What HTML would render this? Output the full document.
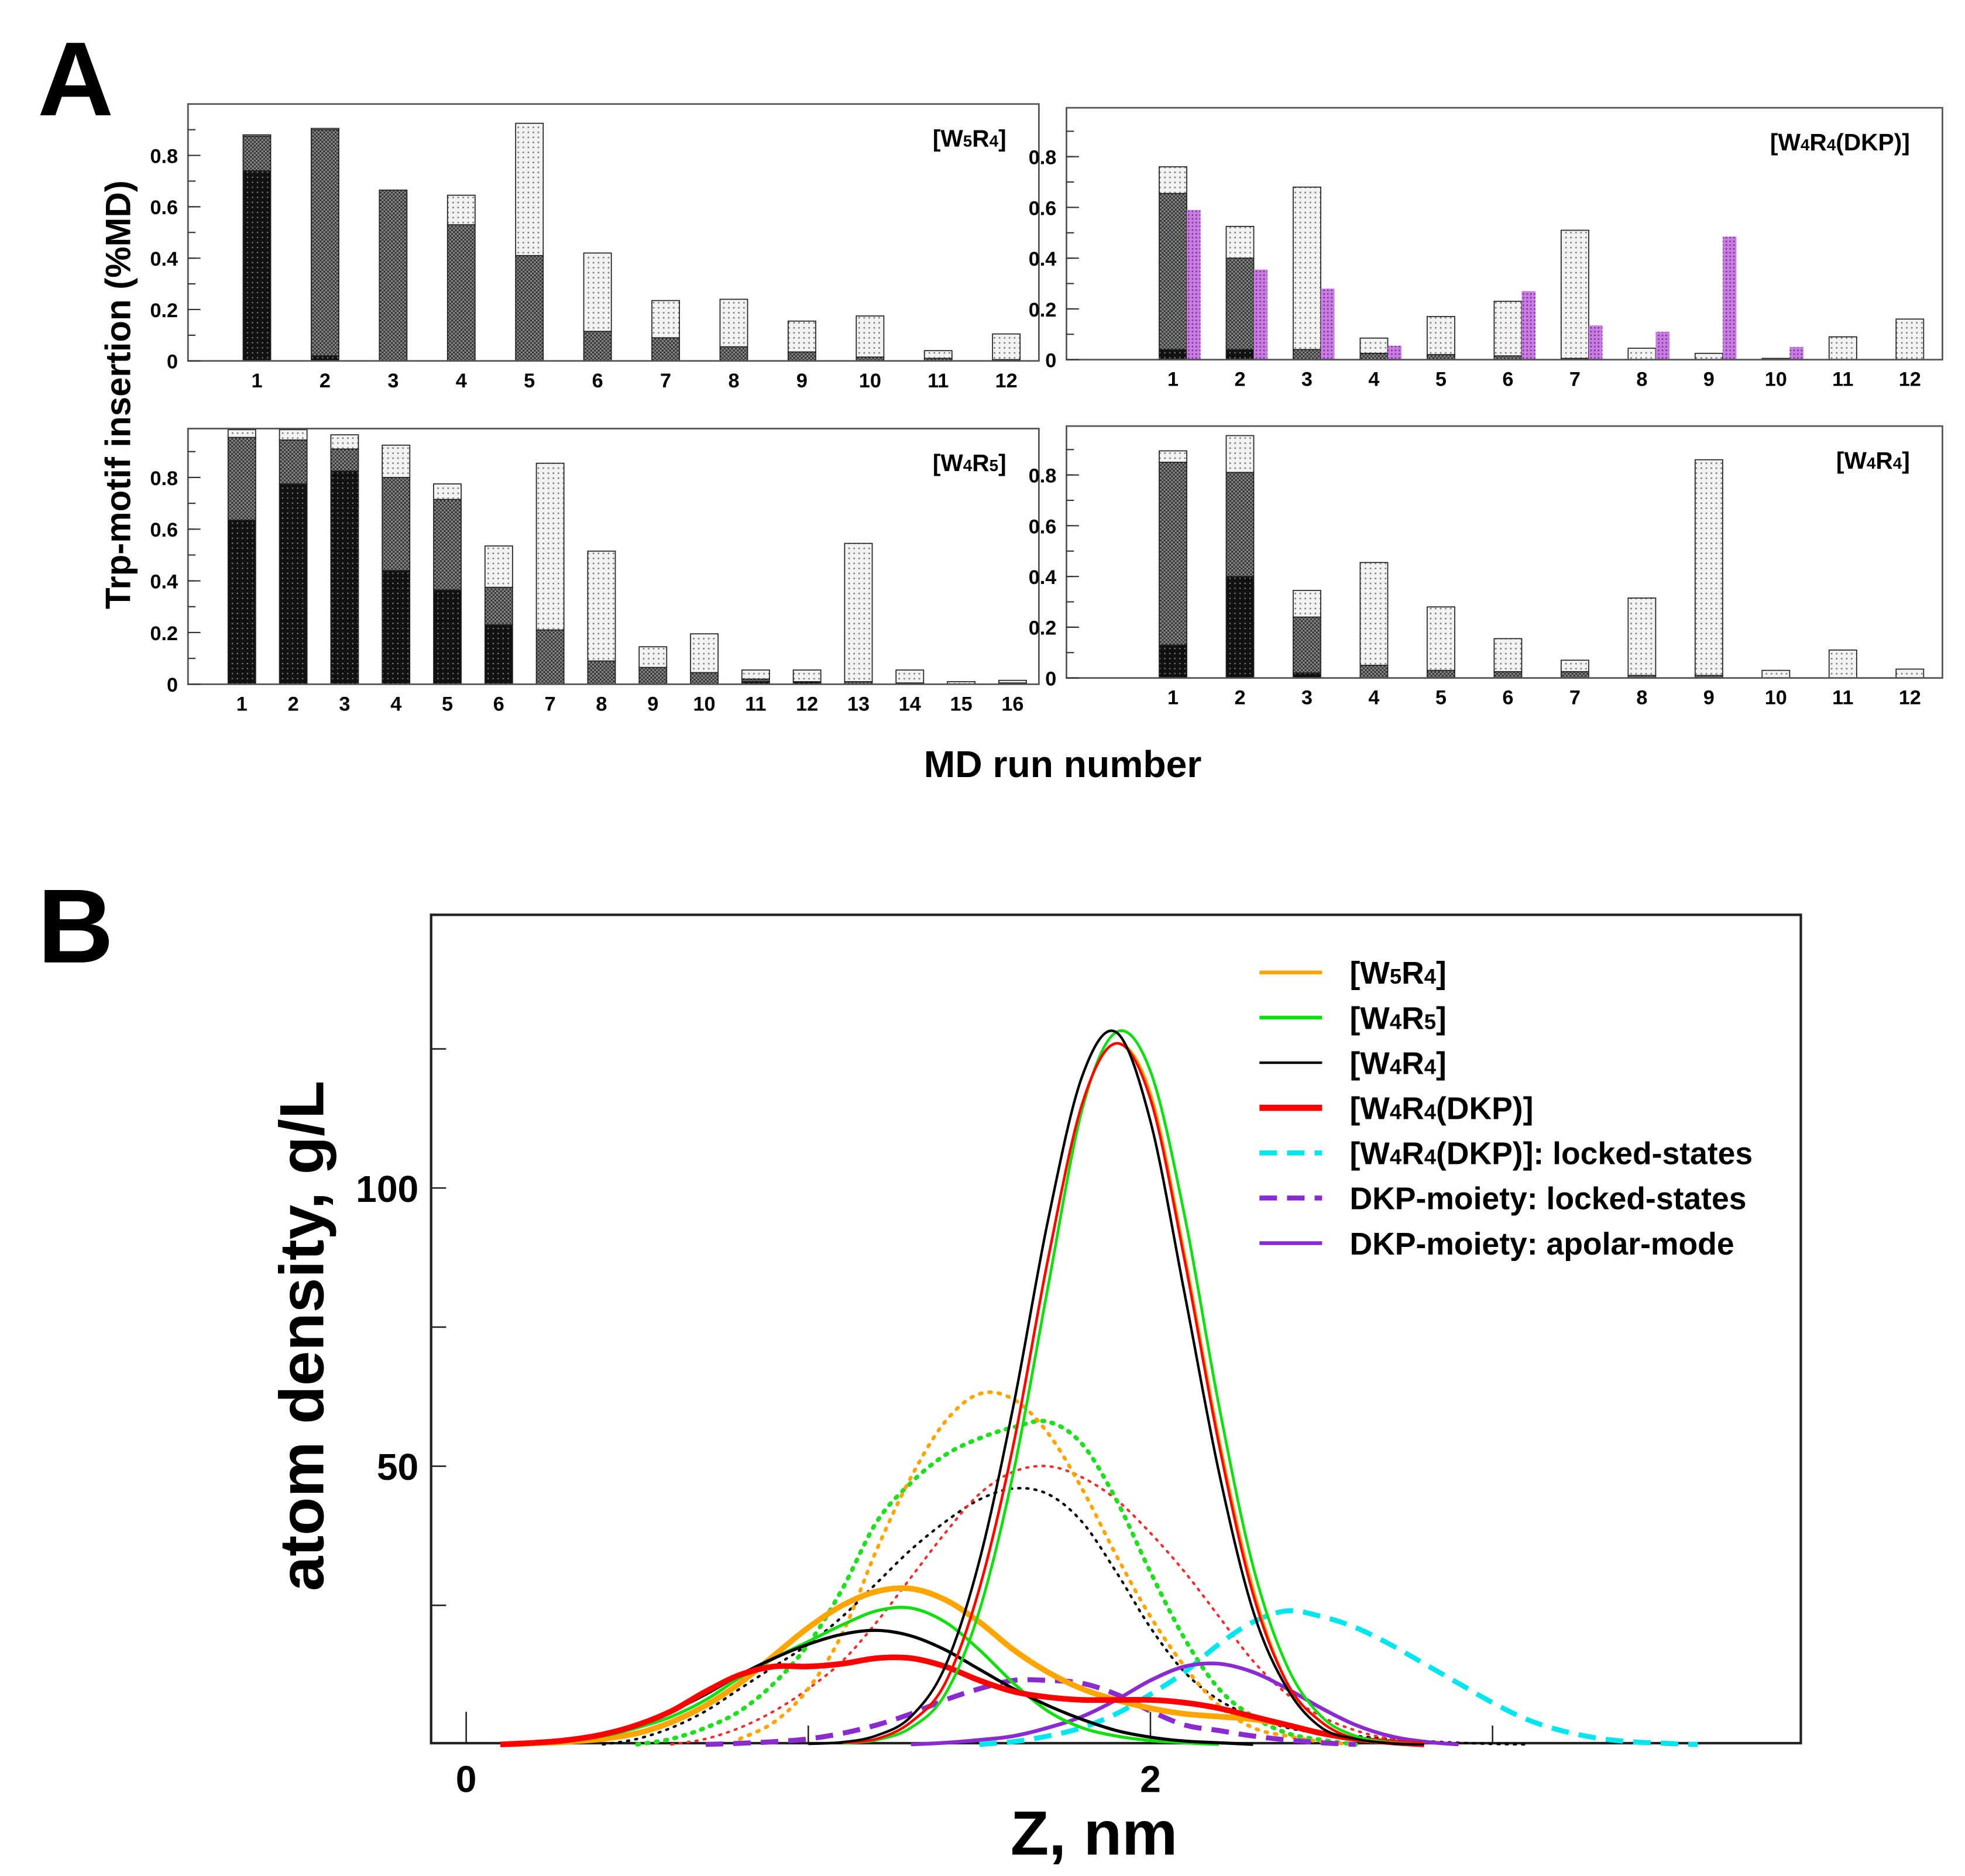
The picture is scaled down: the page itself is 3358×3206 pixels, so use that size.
<!DOCTYPE html>
<html><head><meta charset="utf-8"><style>
html,body{margin:0;padding:0;background:#fff;}
svg{display:block;font-family:"Liberation Sans",sans-serif;}
</style></head><body>
<svg id="fig" width="3358" height="3206" viewBox="0 0 1568 1497" preserveAspectRatio="none" xmlns="http://www.w3.org/2000/svg">
<defs>
<pattern id="pDark" width="4" height="4" patternUnits="userSpaceOnUse"><rect width="4" height="4" fill="#111"/><rect x="1" y="1" width="1" height="1" fill="#888"/></pattern>
<pattern id="pMid" width="3" height="3" patternUnits="userSpaceOnUse"><rect width="3" height="3" fill="#8a8a8a"/><rect width="1.5" height="1.5" fill="#333"/><rect x="1.5" y="1.5" width="1.5" height="1.5" fill="#333"/></pattern>
<pattern id="pLight" width="4" height="4" patternUnits="userSpaceOnUse"><rect width="4" height="4" fill="#f2f2f2"/><rect x="1" y="1" width="1.2" height="1.2" fill="#777"/></pattern>
<pattern id="pPurp" width="3" height="3" patternUnits="userSpaceOnUse"><rect width="3" height="3" fill="#c77ee0"/><rect width="1.2" height="1.2" fill="#7a2f99"/></pattern>
</defs>
<text x="30" y="92" font-size="84" font-weight="bold">A</text>
<text x="30" y="768" font-size="84" font-weight="bold">B</text>
<text transform="translate(104,315) rotate(-90)" text-anchor="middle" font-size="28" font-weight="bold">Trp-motif insertion (%MD)</text>
<text x="848" y="620" text-anchor="middle" font-size="30" font-weight="bold">MD run number</text>
<g id="bars"></g>
<g id="chartB"></g>
</svg>
<script>
// ---- Panel A data: [dark, mid-top, total] per run ----
const runsW5R4 = [1,2,3,4,5,6,7,8,9,10,11,12];
const darkW5R4 = [0.74,0.02,0,0,0,0,0,0,0,0,0,0];
const midW5R4  = [0.875,0.90,0.665,0.53,0.41,0.115,0.09,0.055,0.035,0.015,0.01,0.005];
const totW5R4  = [0.88,0.905,0.665,0.645,0.925,0.42,0.235,0.24,0.155,0.175,0.04,0.105];

const runsDKP = [1,2,3,4,5,6,7,8,9,10,11,12];
const darkDKP = [0.04,0.04,0,0,0,0,0,0,0,0,0,0];
const midDKP  = [0.655,0.40,0.04,0.025,0.02,0.015,0.005,0,0,0,0,0];
const totDKP  = [0.76,0.525,0.68,0.085,0.17,0.23,0.51,0.045,0.025,0.005,0.09,0.16];
const purpDKP = [0.59,0.355,0.28,0.055,0,0.27,0.135,0.11,0.485,0.05,0,0];

const runsW4R5 = [1,2,3,4,5,6,7,8,9,10,11,12,13,14,15,16];
const darkW4R5 = [0.635,0.775,0.825,0.44,0.365,0.23,0,0,0,0,0.01,0.01,0,0,0,0];
const midW4R5  = [0.955,0.945,0.91,0.80,0.715,0.375,0.21,0.09,0.065,0.045,0.02,0.01,0.01,0.005,0,0.005];
const totW4R5  = [0.985,0.985,0.965,0.925,0.775,0.535,0.855,0.515,0.145,0.195,0.055,0.055,0.545,0.055,0.01,0.015];

const runsW4R4 = [1,2,3,4,5,6,7,8,9,10,11,12];
const darkW4R4 = [0.13,0.40,0.02,0,0,0,0,0,0,0,0,0];
const midW4R4  = [0.85,0.81,0.24,0.05,0.03,0.025,0.025,0.01,0.01,0,0,0];
const totW4R4  = [0.895,0.955,0.345,0.455,0.28,0.155,0.07,0.315,0.86,0.03,0.11,0.035];

const yTicksA = [0,0.2,0.4,0.6,0.8];
const yTickLabelsA = ["0","0.2","0.4","0.6","0.8"];

// ---- Panel B data (z = start + i*0.1 nm, density g/L) ----
const bigBlackStart = 1.0, bigBlack = [0.1,0.4,1.6,5,14,33,61,94,120,128,112,81,49,24,10,3,1,0.2,0];
const bigRedStart = 1.1, bigRed = [0.3,1,4,11,28,54,87,115,126,116,87,54,27,11,4,1,0.3,0];
const bigOrangeStart = 1.1, bigOrange = [0.3,1,4,11,28,54,87,115,126,117,88,55,28,11,4,1,0.3,0];
const bigGreenStart = 1.1, bigGreen = [0.2,0.8,3,9,24,49,82,114,128,121,95,61,32,14,5,1.5,0.4,0];
const orangeStart = 0.1, orangeSolid = [0,0.2,0.5,1,2,4,7,11,16,21,25,27.5,28,26,22,17,13,10,8,6.5,5.5,5,4.5,3.5,2,1,0.4,0];
const greenStart = 0.1, greenSolid = [0,0.3,0.8,1.5,3,5,8,12,15.5,18.5,21.5,24,24.5,22,17,11,6,3,1.5,0.7,0.3,0];
const blackStart = 0.1, blackSolid = [0.1,0.4,1,2,3.5,6,9,12.5,15.5,18,19.8,20.5,19.5,17,13.5,10,7,4.5,2.5,1.3,0.6,0.3,0];
const redStart = 0.1, redSolid = [0,0.3,0.8,1.8,3.5,6,9.5,12.5,14,14,14.5,15.5,15.5,14,11.5,9.5,8.5,8,8,8,7.5,6.5,5,3.5,2,1,0.4,0];
const cyanStart = 1.5, cyanDash = [0,0.5,1.5,3,5.5,9,13,18,22,24,23,21,18,14.5,11,7.5,4.5,2.5,1.2,0.5,0.2,0];
const purpDashStart = 0.7, purpDash = [0,0.2,0.5,1,2,3.5,5.5,8,10,11.5,11.5,11,9,6,3.5,2.5,1.5,0.8,0.3,0];
const purpSolidStart = 1.3, purpSolid = [0,0.3,0.8,1.5,3,5,8,11.5,14,14.5,13,10,6.5,3.5,1.5,0.5,0];
const orangeDotStart = 0.8, orangeDot = [1,4,10,20,35,48,58,63,62,56,46,34,23,14,7,3,1.5,0.5,0];
const greenDotStart = 0.5, greenDot = [0,1,3,6,11,18,28,40,47,52,55,57,58,54,44,31,19,10,5,2,0.8,0];
const redDotStart = 0.6, redDot = [0,1,3,6,10,15,22,30,38,45,49,50,48,44,38,31,23,15,9,5,2.5,1,0.3,0];
const blackDotStart = 0.4, blackDot = [0,1,3,6,10,14,18,23,29,35,40,44,46,45,40,31,21,13,8,5,3,2,1.5,1,0.6,0.3,0.1,0];
const yTicksB = [50,100];
const xTicksB = [0,2];

const NS = "http://www.w3.org/2000/svg";
function mk(tag, attrs, parent){ const e=document.createElementNS(NS,tag); for(const k in attrs) e.setAttribute(k,attrs[k]); parent.appendChild(e); return e; }

function barPanel(name, box, y0, perUnit, x1, step, runs, dark, mid, tot, purp, label){
  const g = mk('g',{},document.getElementById('bars'));
  
  
  const yS = v => y0 - v*perUnit/0.2;
  const xS = r => x1 + (r-1)*step;
  const bw = 22;
  for(let i=0;i<runs.length;i++){
    const cx = xS(runs[i]);
    const segs = [[0,dark[i],'url(#pDark)'],[dark[i],mid[i],'url(#pMid)'],[mid[i],tot[i],'url(#pLight)']];
    for(const s of segs){
      if(s[1]-s[0] <= 0) continue;
      const r = mk('rect',{x:cx-bw/2,y:yS(s[1]),width:bw,height:yS(s[0])-yS(s[1]),fill:s[2],stroke:'#222','stroke-width':0.8},g);
      
      
    }
    if(purp && purp[i]>0){
      const p = mk('rect',{x:cx+bw/2,y:yS(purp[i]),width:11,height:yS(0)-yS(purp[i]),fill:'url(#pPurp)'},g);
      
      
    }
    const t = mk('text',{x:cx,y:y0+21,'text-anchor':'middle','font-size':16,'font-weight':'bold'},g);
    t.textContent = runs[i];
    
    
  }
  mk('rect',{x:box[0],y:box[1],width:box[2]-box[0],height:box[3]-box[1],fill:'none',stroke:'#555','stroke-width':1.3},g);
  for(let v=0.1; v<=0.95; v+=0.1){
    mk('line',{x1:box[0],x2:box[0]+6,y1:yS(v),y2:yS(v),stroke:'#333','stroke-width':1},g);
  }
  for(let i=0;i<yTicksA.length;i++){
    mk('line',{x1:box[0],x2:box[0]+10,y1:yS(yTicksA[i]),y2:yS(yTicksA[i]),stroke:'#333','stroke-width':1},g);
    const t = mk('text',{x:box[0]-8,y:yS(yTicksA[i])+6,'text-anchor':'end','font-size':16,'font-weight':'bold'},g);
    t.textContent = yTickLabelsA[i];
    
    
  }
  const lt = mk('text',{x:box[2]-26,y:box[1]+34,'text-anchor':'end','font-size':19,'font-weight':'bold'},g);
  lt.innerHTML = label;
  
  
}
const sub = (s)=>'<tspan font-size="13" dy="0">'+s+'</tspan>';
barPanel('panel-w5r4', [150,83,829,288], 288, 41, 205, (803-205)/11, runsW5R4, darkW5R4, midW5R4, totW5R4, null, '[W'+sub('5')+'R'+sub('4')+']');
barPanel('panel-w4r4-dkp', [851,86,1550,287], 287, 40.5, 936, (1524-936)/11, runsDKP, darkDKP, midDKP, totDKP, purpDKP, '[W'+sub('4')+'R'+sub('4')+'(DKP)]');
barPanel('panel-w4r5', [150,342,829,546], 546, 41.25, 193, (808-193)/15, runsW4R5, darkW4R5, midW4R5, totW4R5, null, '[W'+sub('4')+'R'+sub('5')+']');
barPanel('panel-w4r4', [851,340,1550,541], 541, 40.5, 936, (1524-936)/11, runsW4R4, darkW4R4, midW4R4, totW4R4, null, '[W'+sub('4')+'R'+sub('4')+']');

// ---- Panel B ----
const gB = document.getElementById('chartB');


const bx0=344, bx1=1437, by0=730, by1=1391;
const xB = z => 372 + z*273;
const yB = v => 1392 - v*4.44;
mk('rect',{x:bx0,y:by0,width:bx1-bx0,height:by1-by0,fill:'none',stroke:'#222','stroke-width':2},gB);
for(const v of [25,50,75,100,125]){
  mk('line',{x1:bx0,x2:bx0+12,y1:yB(v),y2:yB(v),stroke:'#222','stroke-width':1.2},gB);
}
for(const z of [0,1,2,3]){
  mk('line',{x1:xB(z),x2:xB(z),y1:by1,y2:by1-(z%2===0?25:14),stroke:'#222','stroke-width':1.2},gB);
}
for(const v of yTicksB){
  const t = mk('text',{x:bx0-10,y:yB(v)+11,'text-anchor':'end','font-size':30,'font-weight':'bold'},gB);
  t.textContent = v;
  
  
}
for(const z of xTicksB){
  const t = mk('text',{x:xB(z),y:1430,'text-anchor':'middle','font-size':30,'font-weight':'bold'},gB);
  t.textContent = z;
  
  
}
const yt = mk('text',{transform:'translate(258,1066) rotate(-90)','text-anchor':'middle','font-size':50,'font-weight':'bold'},gB);
yt.textContent = 'atom density, g/L';


const xt = mk('text',{x:873,y:1480,'text-anchor':'middle','font-size':50,'font-weight':'bold'},gB);
xt.textContent = 'Z, nm';



function curvePath(start, vals){
  const pts = vals.map((v,i)=>[xB(start+i*0.1), yB(v)]);
  let d = 'M'+pts[0][0].toFixed(1)+','+pts[0][1].toFixed(1);
  for(let i=0;i<pts.length-1;i++){
    const p0=pts[Math.max(0,i-1)], p1=pts[i], p2=pts[i+1], p3=pts[Math.min(pts.length-1,i+2)];
    const c1=[p1[0]+(p2[0]-p0[0])/6, p1[1]+(p2[1]-p0[1])/6];
    const c2=[p2[0]-(p3[0]-p1[0])/6, p2[1]-(p3[1]-p1[1])/6];
    d += ' C'+c1[0].toFixed(1)+','+c1[1].toFixed(1)+' '+c2[0].toFixed(1)+','+c2[1].toFixed(1)+' '+p2[0].toFixed(1)+','+p2[1].toFixed(1);
  }
  return d;
}
function curve(name, start, vals, color, w, dash){
  const p = mk('path',{d:curvePath(start,vals),fill:'none',stroke:color,'stroke-width':w,'stroke-linecap':dash&&dash.startsWith('1.5')?'round':'butt','stroke-linejoin':'round'},gB);
  if(dash) p.setAttribute('stroke-dasharray',dash);
  
  
}
curve('black-dotted', blackDotStart, blackDot, '#000', 2, '1.5 5');
curve('red-dotted', redDotStart, redDot, '#f03030', 2, '1.5 5');
curve('green-dotted', greenDotStart, greenDot, '#22dd22', 3.5, '1.5 6');
curve('orange-dotted', orangeDotStart, orangeDot, '#ffa500', 3, '1.5 6');
curve('cyan-locked', cyanStart, cyanDash, '#00e5ee', 4, '14 8');
curve('purple-locked', purpDashStart, purpDash, '#8a2bd0', 4, '14 8');
curve('purple-apolar', purpSolidStart, purpSolid, '#8a2bd0', 3);
curve('orange-solid', orangeStart, orangeSolid, '#ffa500', 4.5);
curve('green-solid', greenStart, greenSolid, '#11dd11', 2.5);
curve('black-solid', blackStart, blackSolid, '#000', 2.5);
curve('red-solid', redStart, redSolid, '#ff0000', 4.5);
curve('green-peak', bigGreenStart, bigGreen, '#11dd11', 2.2);
curve('orange-peak', bigOrangeStart, bigOrange, '#ffa500', 2.2);
curve('red-peak', bigRedStart, bigRed, '#ff0000', 2);
curve('black-peak', bigBlackStart, bigBlack, '#000', 2);

const legend = [
  ['[W<tspan font-size="17">5</tspan>R<tspan font-size="17">4</tspan>]','#ffa500',3,null],
  ['[W<tspan font-size="17">4</tspan>R<tspan font-size="17">5</tspan>]','#11dd11',3,null],
  ['[W<tspan font-size="17">4</tspan>R<tspan font-size="17">4</tspan>]','#000',2,null],
  ['[W<tspan font-size="17">4</tspan>R<tspan font-size="17">4</tspan>(DKP)]','#ff0000',5,null],
  ['[W<tspan font-size="17">4</tspan>R<tspan font-size="17">4</tspan>(DKP)]: locked-states','#00e5ee',4,'14 8'],
  ['DKP-moiety: locked-states','#8a2bd0',4,'14 8'],
  ['DKP-moiety: apolar-mode','#8a2bd0',3,null]
];
legend.forEach((L,i)=>{
  const y = 776 + i*36;
  const g = mk('g',{},gB);
  
  
  const ln = mk('line',{x1:1005,x2:1055,y1:y,y2:y,stroke:L[1],'stroke-width':L[2]},g);
  if(L[3]) ln.setAttribute('stroke-dasharray',L[3]);
  const t = mk('text',{x:1077,y:y+9,'font-size':25,'font-weight':'bold'},g);
  t.innerHTML = L[0];
});
</script>
</body></html>
